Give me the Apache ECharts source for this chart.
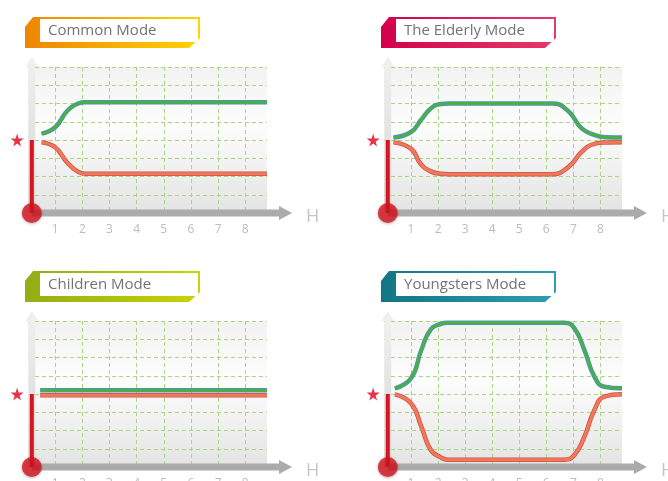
<!DOCTYPE html>
<html>
<head>
<meta charset="utf-8">
<script src="https://cdn.jsdelivr.net/npm/echarts@6/dist/echarts.min.js"></script>
<style>
html, body { margin: 0; padding: 0; background: #fff; }
#main { width: 668px; height: 481px; }
</style>
</head>
<body>
<div id="main"></div>
<script>
// H axis tick labels
const hourTicks = [1, 2, 3, 4, 5, 6, 7, 8];
const modeNames = ['Common Mode', 'The Elderly Mode', 'Children Mode', 'Youngsters Mode'];
const refLevel = 4; // level marked with the star

// upper (green) and lower (red) curves, [hour, level]
const commonUpper = [[0.5, 4.35], [1, 4.7], [1.45, 5.6], [1.85, 6.0], [2.1, 6.07], [8.8, 6.07]];
const commonLower = [[0.5, 3.87], [1, 3.6], [1.45, 2.75], [1.85, 2.25], [2.1, 2.15], [8.8, 2.15]];

const elderlyUpper = [[0.35, 4.14], [1, 4.44], [1.36, 5.08], [1.73, 5.73], [2.1, 5.97], [2.4, 6.0],
  [6.2, 6.0], [6.8, 5.6], [7.3, 4.65], [7.75, 4.3], [8.2, 4.15], [8.8, 4.14]];
const elderlyLower = [[0.35, 3.87], [1, 3.52], [1.36, 2.69], [1.73, 2.28], [2.1, 2.15], [2.4, 2.13],
  [6.2, 2.13], [6.8, 2.5], [7.3, 3.33], [7.67, 3.74], [8.16, 3.86], [8.8, 3.87]];

const childrenUpper = [[0.45, 4.2], [8.8, 4.2]];
const childrenLower = [[0.45, 3.93], [8.8, 3.93]];

const youngUpper = [[0.4, 4.31], [1.0, 4.86], [1.38, 6.41], [1.73, 7.54], [2.1, 7.84], [2.35, 7.91],
  [6.67, 7.91], [7.04, 7.6], [7.41, 6.41], [7.78, 4.95], [8.15, 4.4], [8.8, 4.31]];
const youngLower = [[0.4, 3.98], [1.0, 3.49], [1.38, 2.21], [1.73, 0.93], [2.1, 0.53], [2.35, 0.4],
  [6.67, 0.4], [7.04, 0.66], [7.41, 1.66], [7.78, 3.12], [8.15, 3.85], [8.8, 3.98]];

const upperLines = [commonUpper, elderlyUpper, childrenUpper, youngUpper];
const lowerLines = [commonLower, elderlyLower, childrenLower, youngLower];

const tabColors = [
  ['#ee8600', '#ffd400'],
  ['#d4004a', '#e63a6b'],
  ['#94ad16', '#c8d500'],
  ['#127584', '#2b9fb1']
];

const panels = [
  { left: 28, top: 67, width: 239, height: 146 },
  { left: 384, top: 67, width: 238, height: 146 },
  { left: 28, top: 321, width: 239, height: 146 },
  { left: 384, top: 321, width: 238, height: 146 }
];
const thermoX = 0.14;
const starX = -0.4;
const starPath = 'path://M50,0 L61,35 L98,35 L68,57 L79,91 L50,70 L21,91 L32,57 L2,35 L39,35 Z';

const gridLine = { color: '#a8d682', type: [4, 3], width: 1 };

const chart = echarts.init(document.getElementById('main'));

const grids = [], xAxes = [], yAxes = [], series = [];
panels.forEach((p, i) => {
  grids.push({
    left: p.left, top: p.top, width: p.width, height: p.height,
    outerBoundsMode: 'none', containLabel: false,
    show: true, borderWidth: 0,
    backgroundColor: {
      type: 'linear', x: 0, y: 0, x2: 0, y2: 1,
      colorStops: [
        { offset: 0, color: '#f2f2f2' },
        { offset: 0.4, color: '#fdfdfd' },
        { offset: 1, color: '#e3e3e3' }
      ]
    }
  });
  xAxes.push({
    gridIndex: i, type: 'value', min: 0, max: 8.8, interval: 1,
    axisLine: { show: false }, axisTick: { show: false },
    axisLabel: {
      margin: 11, color: '#bcbcbc', fontSize: 12, fontFamily: 'Open Sans',
      showMinLabel: false, showMaxLabel: false,
      formatter: v => hourTicks.includes(v) ? String(v) : ''
    },
    splitLine: { show: true, showMinLine: false, showMaxLine: false, lineStyle: gridLine }
  });
  yAxes.push({
    gridIndex: i, type: 'value', min: 0, max: 8, interval: 1,
    axisLine: { show: false }, axisTick: { show: false }, axisLabel: { show: false },
    splitLine: { show: true, showMinLine: false, lineStyle: gridLine }
  });

  const curve = (data, color, width, z) => ({
    type: 'line', xAxisIndex: i, yAxisIndex: i, data: data,
    smooth: 0.5, symbol: 'none', z: z,
    lineStyle: { color: color, width: width }
  });
  series.push(curve(upperLines[i], '#4b8fd0', 4.5, 3));
  series.push(curve(upperLines[i], '#4caf44', 3, 4));
  series.push(curve(lowerLines[i], '#cf5240', 4.5, 3));
  series.push(curve(lowerLines[i], '#ef785d', 3, 4));

  // thermometer
  series.push({
    type: 'line', xAxisIndex: i, yAxisIndex: i,
    data: [[thermoX, refLevel], [thermoX, 0]],
    symbol: 'none', z: 5, clip: false,
    lineStyle: { color: '#d7141f', width: 4 }
  });
  series.push({
    type: 'scatter', xAxisIndex: i, yAxisIndex: i,
    data: [[thermoX, 0]], symbolSize: 20, z: 6, clip: false,
    itemStyle: { color: '#d7141f', shadowBlur: 3, shadowColor: 'rgba(0,0,0,0.35)', shadowOffsetY: 1 }
  });
  series.push({
    type: 'scatter', xAxisIndex: i, yAxisIndex: i,
    data: [[starX, refLevel]], symbol: starPath, symbolSize: 13, z: 6, clip: false,
    itemStyle: { color: '#e3001b' }
  });
});

chart.setOption({
  animation: false,
  backgroundColor: '#fff',
  grid: grids,
  xAxis: xAxes,
  yAxis: yAxes,
  series: series
});

// axes arrows, title tabs and the H labels
const graphics = [];
panels.forEach((p, i) => {
  const o = chart.convertToPixel({ gridIndex: i }, [thermoX, 0]);
  const tr = chart.convertToPixel({ gridIndex: i }, [8.8, 8]);
  const gl = chart.convertToPixel({ gridIndex: i }, [0, 0])[0];
  const ax = o[0], by = o[1], gr = tr[0], gt = tr[1];

  graphics.push({
    type: 'rect', z: 1,
    shape: { x: ax - 3.5, y: gt, width: 7, height: by - gt },
    style: {
      fill: {
        type: 'linear', x: 0, y: 0, x2: 0, y2: 1,
        colorStops: [{ offset: 0, color: '#efefef' }, { offset: 1, color: '#d4d4d4' }]
      }
    }
  });
  graphics.push({
    type: 'polygon', z: 1,
    shape: { points: [[ax - 6.5, gt], [ax, gt - 10], [ax + 6.5, gt]] },
    style: { fill: '#efefef' }
  });
  graphics.push({
    type: 'rect', z: 1,
    shape: { x: ax, y: by - 3.5, width: gr + 12 - ax, height: 7 },
    style: { fill: '#ababab' }
  });
  graphics.push({
    type: 'polygon', z: 1,
    shape: { points: [[gr + 12, by - 7], [gr + 25, by], [gr + 12, by + 7]] },
    style: { fill: '#ababab' }
  });
  graphics.push({
    type: 'text', z: 1,
    style: {
      x: gr + 39, y: by + 4, text: 'H', fill: '#c6c6c6',
      font: '18px "Open Sans"', verticalAlign: 'middle'
    }
  });

  const L = gl - 3, T = gt - 50;
  graphics.push({
    type: 'polygon', z: 1,
    shape: { points: [[L, T + 31], [L, T + 10], [L + 8, T], [L + 175, T], [L + 175, T + 21], [L + 164, T + 31]] },
    style: {
      fill: {
        type: 'linear', x: 0, y: 0, x2: 1, y2: 0,
        colorStops: [{ offset: 0, color: tabColors[i][0] }, { offset: 1, color: tabColors[i][1] }]
      }
    }
  });
  graphics.push({
    type: 'rect', z: 1,
    shape: { x: L + 15, y: T + 2, width: 158, height: 23 },
    style: { fill: '#fff' }
  });
  graphics.push({
    type: 'text', z: 1,
    style: {
      x: L + 23, y: T + 14, text: modeNames[i], fill: '#737373',
      font: '15px "Open Sans"', verticalAlign: 'middle'
    }
  });
});

chart.setOption({ graphic: graphics });
</script>
</body>
</html>
